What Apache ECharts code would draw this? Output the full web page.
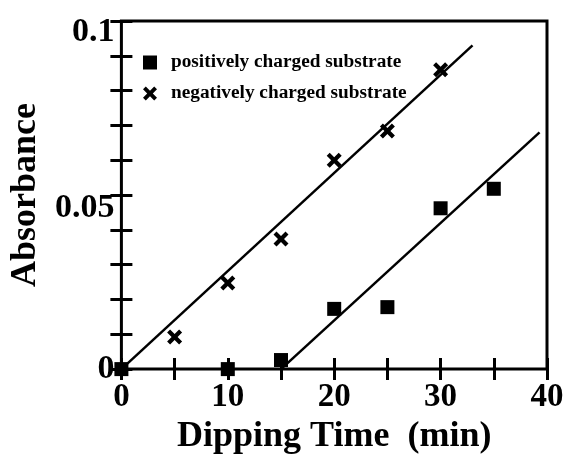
<!DOCTYPE html>
<html>
<head>
<meta charset="utf-8">
<script src="https://cdn.jsdelivr.net/npm/echarts@6/dist/echarts.min.js"></script>
<style>
  html, body { margin: 0; padding: 0; background: #fff; }
  #chart { width: 571px; height: 460px; }
</style>
</head>
<body>
<div id="chart"></div>
<script>
// data
const seriesNames = ['positively charged substrate', 'negatively charged substrate'];
const posTime = [0, 10, 15, 20, 25, 30, 35];
const posAbs = [0, 0, 0.0026, 0.0173, 0.0178, 0.0462, 0.0518];
const negTime = [5, 10, 15, 20, 25, 30];
const negAbs = [0.0092, 0.0247, 0.0374, 0.0600, 0.0684, 0.0860];
// fitted lines (end points)
const posFit = [[15, 0], [39.3, 0.068]];
const negFit = [[0, 0], [33, 0.093]];
// tick labels
const xTickLabels = ['0', '10', '20', '30', '40'];
const yTickLabels = ['0', '0.05', '0.1'];

const font = "'Liberation Serif', 'Times New Roman', serif";
const crossPath = 'path://M0,2L2,0L5,3L8,0L10,2L7,5L10,8L8,10L5,7L2,10L0,8L3,5Z';

const chart = echarts.init(document.getElementById('chart'));

const labelFor = (list, v) => list.find(t => Math.abs(parseFloat(t) - v) < 1e-6);

const tickStyle = { show: true, inside: true, length: 11, lineStyle: { color: '#000', width: 3 } };
const labelFont = { fontFamily: font, fontWeight: 'bold', color: '#000', fontSize: 33 };
const yFont = Object.assign({}, labelFont, { fontSize: 34 });

const option = {
  backgroundColor: '#fff',
  animation: false,
  grid: {
    left: 115, right: 24, top: 21, bottom: 84,
    show: true, borderColor: '#000', borderWidth: 3
  },
  legend: {
    data: [
      { name: seriesNames[0], icon: 'rect' },
      { name: seriesNames[1], icon: crossPath }
    ],
    orient: 'vertical',
    left: 138, top: 48,
    itemWidth: 14, itemHeight: 14, itemGap: 12,
    itemStyle: { opacity: 1 },
    textStyle: {
      fontFamily: font, fontWeight: 'bold', fontSize: 19.3, color: '#000',
      padding: [0, 0, 0, 9]
    }
  },
  xAxis: [{
    type: 'value', min: 0, max: 40, interval: 5,
    name: 'Dipping Time  (min)', nameLocation: 'middle', nameGap: 39,
    nameTextStyle: { fontFamily: font, fontWeight: 'bold', fontSize: 36, color: '#000' },
    axisLine: { show: false },
    axisTick: tickStyle,
    splitLine: { show: false },
    axisLabel: Object.assign({
      margin: 12,
      formatter: v => labelFor(xTickLabels, v) || ''
    }, labelFont)
  }, {
    type: 'value', position: 'top', min: 0, max: 40, interval: 5,
    axisLine: { show: false }, axisTick: tickStyle,
    axisLabel: { show: false }, splitLine: { show: false }
  }],
  yAxis: [{
    type: 'value', min: 0, max: 0.1, interval: 0.01,
    name: 'Absorbance', nameLocation: 'middle', nameGap: 63,
    nameTextStyle: { fontFamily: font, fontWeight: 'bold', fontSize: 36, color: '#000' },
    axisLine: { show: false },
    axisTick: tickStyle,
    splitLine: { show: false },
    axisLabel: Object.assign({
      margin: 7,
      formatter: v => {
        const lab = labelFor(yTickLabels, v);
        if (!lab) return '';
        if (v > 0.09) return '{hi|' + lab + '}';
        if (v > 0.04) return '{mid|' + lab + '}';
        return lab;
      },
      rich: {
        hi: Object.assign({ padding: [22, 0, 0, 0] }, yFont),
        mid: Object.assign({ padding: [26, 0, 0, 0] }, yFont)
      }
    }, yFont)
  }, {
    type: 'value', position: 'right', min: 0, max: 0.1, interval: 0.01,
    axisLine: { show: false }, axisTick: tickStyle,
    axisLabel: { show: false }, splitLine: { show: false }
  }],
  series: [
    {
      name: 'posFit', type: 'line', data: posFit, showSymbol: false, silent: true,
      lineStyle: { color: '#000', width: 2.5 }, z: 2
    },
    {
      name: 'negFit', type: 'line', data: negFit, showSymbol: false, silent: true,
      lineStyle: { color: '#000', width: 2.5 }, z: 2
    },
    {
      name: seriesNames[0], type: 'scatter', symbol: 'rect', symbolSize: 14,
      data: posTime.map((t, i) => [t, posAbs[i]]),
      itemStyle: { color: '#000', opacity: 1 }, clip: false, z: 3
    },
    {
      name: seriesNames[1], type: 'scatter', symbol: crossPath, symbolSize: 15,
      data: negTime.map((t, i) => [t, negAbs[i]]),
      itemStyle: { color: '#000', opacity: 1 }, clip: false, z: 3
    }
  ]
};

chart.setOption(option);
</script>
</body>
</html>
